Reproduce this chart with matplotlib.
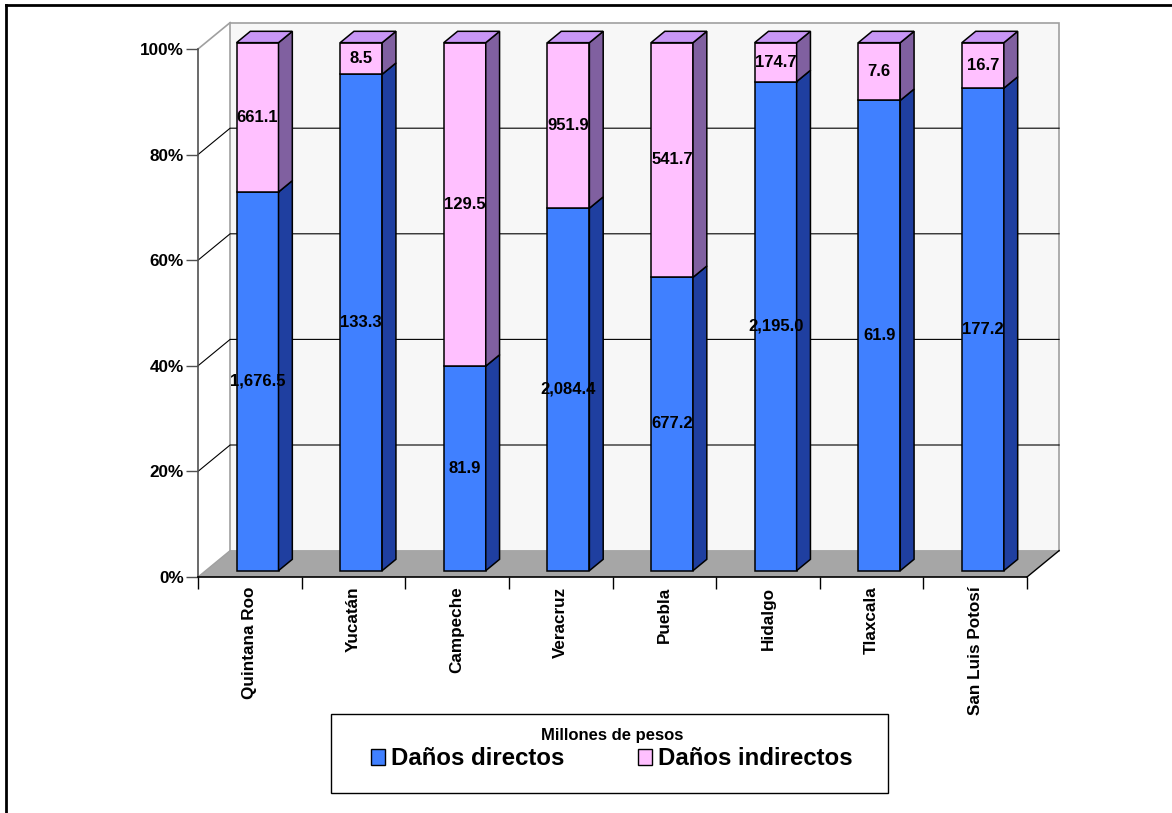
import numpy as np
import matplotlib
matplotlib.use("Agg")
import matplotlib.pyplot as plt
from matplotlib.patches import Polygon, Rectangle, Patch
from matplotlib.lines import Line2D

# Data (millones de pesos)
states = ["Quintana Roo", "Yucatán", "Campeche", "Veracruz",
          "Puebla", "Hidalgo", "Tlaxcala", "San Luis Potosí"]
directos = [1676.5, 133.3, 81.9, 2084.4, 677.2, 2195.0, 61.9, 177.2]
indirectos = [661.1, 8.5, 129.5, 951.9, 541.7, 174.7, 7.6, 16.7]
pct_ticks = [0, 20, 40, 60, 80, 100]
legend_title = "Millones de pesos"
series_names = ["Daños directos", "Daños indirectos"]

plt.rcParams["font.family"] = ["Liberation Sans", "DejaVu Sans"]
plt.rcParams["font.weight"] = "bold"

W, H = 1172, 813
fig = plt.figure(figsize=(W / 100, H / 100), dpi=100)
fig.patch.set_facecolor("white")
ax = fig.add_axes([198 / W, (H - 577) / H, 829 / W, 528 / H])
n = len(states)
ax.set_xlim(0, n)
ax.set_ylim(0, 100)
ax.set_facecolor("none")

# pseudo-3D depth of the plot box (data units) and bar depth fractions
DX, DY = 0.31, 5.0
F1, F2 = 0.24, 0.67

# 100% stacked shares
dir_arr = np.array(directos)
ind_arr = np.array(indirectos)
total = dir_arr + ind_arr
p_dir = 100 * dir_arr / total
p_ind = 100 * ind_arr / total

# back wall, floor and grid
ax.add_patch(Rectangle((DX, DY), n, 100, facecolor="#F7F7F7", edgecolor="#A0A0A0",
                       lw=1.2, zorder=0.5, clip_on=False))
ax.add_patch(Polygon([(0, 0), (n, 0), (n + DX, DY), (DX, DY)], closed=True,
                     facecolor="#A6A6A6", edgecolor="none", zorder=1, clip_on=False))
for v in pct_ticks[1:-1]:
    ax.plot([0, DX, n + DX], [v, v + DY, v + DY], color="black", lw=0.8,
            zorder=1.5, clip_on=False)
ax.plot([0, DX], [100, 100 + DY], color="#A0A0A0", lw=1.2, zorder=1.5, clip_on=False)
ax.plot([0, DX], [0, DY], color="#A0A0A0", lw=1.0, zorder=1.5, clip_on=False)
ax.plot([n, n + DX], [0, DY], color="black", lw=1.0, zorder=1.5, clip_on=False)

# bars
x = np.arange(n) + 0.5
bw = 0.405
fx, fy = F1 * DX, F1 * DY
sx, sy = (F2 - F1) * DX, (F2 - F1) * DY
series = [
    (np.zeros(n), p_dir, dir_arr, "#4080FF", "#1F3FA0"),
    (p_dir, p_ind, ind_arr, "#FFC0FF", "#8060A0"),
]
for bottom, height, raw, front, side in series:
    ax.bar(x + fx, height, bw, bottom=bottom + fy, color=front, edgecolor="black",
           lw=1.1, zorder=5, clip_on=False)
    for xi, b, h in zip(x, bottom, height):
        xr = xi + fx + bw / 2
        y0, y1 = b + fy, b + h + fy
        ax.add_patch(Polygon([(xr, y0), (xr + sx, y0 + sy), (xr + sx, y1 + sy), (xr, y1)],
                             closed=True, facecolor=side, edgecolor="black", lw=1.1,
                             zorder=5, clip_on=False))
    for xi, b, h, v in zip(x, bottom, height, raw):
        ax.text(xi + fx, b + fy + h / 2, f"{v:,.1f}", ha="center", va="center",
                fontsize=12, fontweight="bold", zorder=10)

# top faces
top = p_dir + p_ind
for xi, t in zip(x, top):
    xl, xr = xi + fx - bw / 2, xi + fx + bw / 2
    yt = t + fy
    ax.add_patch(Polygon([(xl, yt), (xr, yt), (xr + sx, yt + sy), (xl + sx, yt + sy)],
                         closed=True, facecolor="#C896F5", edgecolor="black", lw=1.1,
                         zorder=5, clip_on=False))

# axes styling
for s in ("top", "right"):
    ax.spines[s].set_visible(False)
ax.spines["left"].set_color("#505050")
ax.spines["left"].set_linewidth(1.2)
ax.spines["bottom"].set_color("black")
ax.spines["bottom"].set_linewidth(1.2)
ax.spines["left"].set_zorder(2)
ax.spines["bottom"].set_zorder(2)

ax.set_yticks(pct_ticks)
ax.set_yticklabels([f"{v}%" for v in pct_ticks], fontsize=12.3, fontweight="bold")
ax.tick_params(axis="y", direction="out", length=8.6, width=1.0, color="#505050", pad=1.5)

ax.set_xticks(np.arange(n + 1))
ax.set_xticklabels([])
ax.tick_params(axis="x", which="major", direction="out", length=8.6, width=1.0, color="black")
ax.set_xticks(x, minor=True)
ax.set_xticklabels(states, minor=True, rotation=90, fontsize=12.3, fontweight="bold",
                   va="top", ha="center")
ax.tick_params(axis="x", which="minor", length=0, pad=7)

# legend
fig.add_artist(Rectangle((331 / W, (H - 793) / H), 557 / W, 79 / H,
                         transform=fig.transFigure, fill=False, edgecolor="black", lw=1.0))
handles = [Patch(facecolor="#4080FF", edgecolor="black", lw=1.0),
           Patch(facecolor="#FFC0FF", edgecolor="black", lw=1.0)]
fig.legend(handles, series_names, loc="center", bbox_to_anchor=(612 / W, (H - 749) / H),
           ncol=2, frameon=False, title=legend_title,
           title_fontproperties={"size": 12, "weight": "bold"},
           prop={"size": 17.3, "weight": "bold"}, handlelength=0.6, handleheight=0.6,
           handletextpad=0.25, columnspacing=3.05, borderpad=0, labelspacing=0.2)

# outer frame
fig.add_artist(Line2D([6 / W, 1], [1 - 5 / H, 1 - 5 / H], transform=fig.transFigure,
                      color="black", lw=2.0))
fig.add_artist(Line2D([6 / W, 6 / W], [0, 1 - 5 / H], transform=fig.transFigure,
                      color="black", lw=2.0))

fig.savefig("out.png", dpi=100)
